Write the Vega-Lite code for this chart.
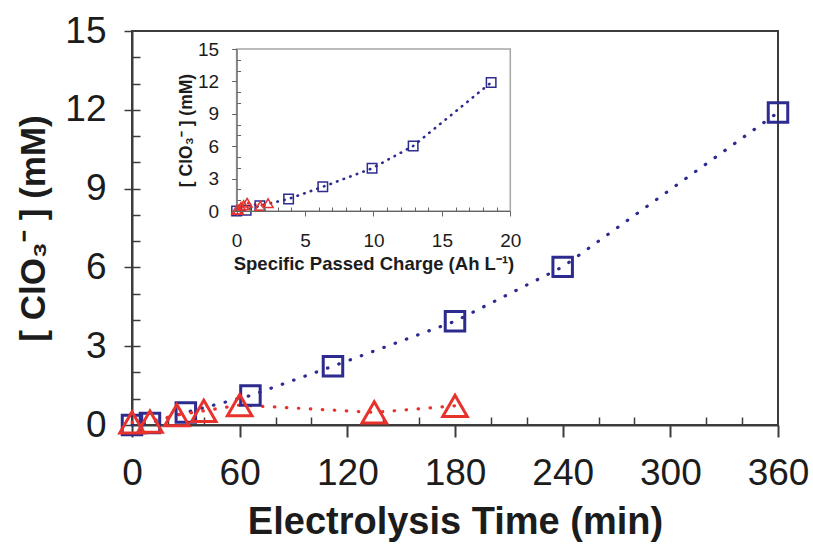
{
  "$schema": "https://vega.github.io/schema/vega-lite/v6.json",
  "width": 646,
  "height": 394,
  "autosize": {"type": "none"},
  "padding": {"left": 132, "top": 31, "right": 35, "bottom": 120},
  "background": "white",
  "config": {
    "view": {"stroke": "#3c3c3c", "strokeWidth": 2},
    "font": "Liberation Sans",
    "axis": {
      "grid": false,
      "labelFont": "Liberation Sans",
      "titleFont": "Liberation Sans",
      "labelColor": "#1c1c1c",
      "titleColor": "#1c1c1c",
      "labelFlush": false,
      "labelOverlap": false
    }
  },
  "datasets": {
    "byTime": [
      {"series": "A", "time_min": 0, "chlorate_mM": 0.0},
      {"series": "A", "time_min": 10, "chlorate_mM": 0.08},
      {"series": "A", "time_min": 30, "chlorate_mM": 0.48},
      {"series": "A", "time_min": 66, "chlorate_mM": 1.12},
      {"series": "A", "time_min": 112, "chlorate_mM": 2.24},
      {"series": "A", "time_min": 180, "chlorate_mM": 3.95},
      {"series": "A", "time_min": 240, "chlorate_mM": 6.02},
      {"series": "A", "time_min": 360, "chlorate_mM": 11.9},
      {"series": "B", "time_min": 0, "chlorate_mM": 0.1},
      {"series": "B", "time_min": 10, "chlorate_mM": 0.13},
      {"series": "B", "time_min": 25, "chlorate_mM": 0.38},
      {"series": "B", "time_min": 40, "chlorate_mM": 0.54},
      {"series": "B", "time_min": 60, "chlorate_mM": 0.76},
      {"series": "B", "time_min": 135, "chlorate_mM": 0.48},
      {"series": "B", "time_min": 180, "chlorate_mM": 0.73}
    ],
    "byCharge": [
      {"series": "A", "charge_AhL": 0, "chlorate_mM": 0.0},
      {"series": "A", "charge_AhL": 0.7, "chlorate_mM": 0.08},
      {"series": "A", "charge_AhL": 1.7, "chlorate_mM": 0.48},
      {"series": "A", "charge_AhL": 3.8, "chlorate_mM": 1.12},
      {"series": "A", "charge_AhL": 6.3, "chlorate_mM": 2.24},
      {"series": "A", "charge_AhL": 9.9, "chlorate_mM": 3.95},
      {"series": "A", "charge_AhL": 12.9, "chlorate_mM": 6.02},
      {"series": "A", "charge_AhL": 18.6, "chlorate_mM": 11.9},
      {"series": "B", "charge_AhL": 0, "chlorate_mM": 0.1},
      {"series": "B", "charge_AhL": 0.13, "chlorate_mM": 0.13},
      {"series": "B", "charge_AhL": 0.32, "chlorate_mM": 0.38},
      {"series": "B", "charge_AhL": 0.51, "chlorate_mM": 0.54},
      {"series": "B", "charge_AhL": 0.77, "chlorate_mM": 0.76},
      {"series": "B", "charge_AhL": 1.73, "chlorate_mM": 0.48},
      {"series": "B", "charge_AhL": 2.3, "chlorate_mM": 0.73}
    ]
  },
  "layer": [
    {
      "data": {"name": "byTime"},
      "layer": [
        {
          "transform": [{"filter": "datum.series === 'A'"}],
          "mark": {"type": "line", "color": "#2d2b8e", "strokeWidth": 3.2, "strokeDash": [0.5, 11.5], "strokeCap": "round"},
          "encoding": {
            "x": {
              "field": "time_min", "type": "quantitative",
              "scale": {"domain": [0, 360], "nice": false},
              "axis": {
                "orient": "bottom", "values": [0, 60, 120, 180, 240, 300, 360], "format": "d",
                "title": "Electrolysis Time (min)", "titleFontSize": 38, "titleFontWeight": "bold", "titlePadding": 12,
                "labelFontSize": 37, "labelPadding": 18,
                "tickSize": 12, "tickWidth": 2, "tickColor": "#3c3c3c",
                "domainColor": "#3c3c3c", "domainWidth": 2
              }
            },
            "y": {
              "field": "chlorate_mM", "type": "quantitative",
              "scale": {"domain": [0, 15], "nice": false},
              "axis": {
                "orient": "left", "values": [0, 3, 6, 9, 12, 15], "format": "d",
                "title": "[ ClO\u2083\u207B ] (mM)", "titleFontSize": 35, "titleFontWeight": "bold", "titlePadding": 13,
                "labelFontSize": 37, "labelPadding": 18,
                "tickSize": 8, "tickWidth": 1.5, "tickColor": "#3c3c3c",
                "domainColor": "#3c3c3c", "domainWidth": 2
              }
            }
          }
        },
        {
          "transform": [{"filter": "datum.series === 'B'"}],
          "mark": {"type": "line", "color": "#e8322c", "strokeWidth": 3.2, "strokeDash": [0.5, 11.5], "strokeCap": "round"},
          "encoding": {
            "x": {
              "field": "time_min", "type": "quantitative",
              "scale": {"domain": [0, 360], "nice": false},
              "axis": {
                "orient": "bottom", "values": [20, 40, 80, 100, 140, 160, 200, 220, 260, 280, 320, 340],
                "labels": false, "domain": false, "title": null,
                "tickSize": -8, "tickWidth": 1.5, "tickColor": "#3c3c3c"
              }
            },
            "y": {
              "field": "chlorate_mM", "type": "quantitative",
              "scale": {"domain": [0, 15], "nice": false},
              "axis": {
                "orient": "left", "values": [1, 2, 3, 4, 5, 6, 7, 8, 9, 10, 11, 12, 13, 14],
                "labels": false, "domain": false, "title": null,
                "tickSize": -8, "tickWidth": 1.5, "tickColor": "#3c3c3c"
              }
            }
          }
        },
        {
          "transform": [{"filter": "datum.series === 'A'"}],
          "mark": {"type": "point", "shape": "square", "filled": false, "color": "#2d2b8e", "strokeWidth": 3, "size": 380, "opacity": 1},
          "encoding": {
            "x": {"field": "time_min", "type": "quantitative", "scale": {"domain": [0, 360], "nice": false}, "axis": null},
            "y": {"field": "chlorate_mM", "type": "quantitative", "scale": {"domain": [0, 15], "nice": false}, "axis": null}
          }
        },
        {
          "transform": [{"filter": "datum.series === 'B'"}],
          "mark": {"type": "point", "shape": "triangle-up", "filled": false, "color": "#e8322c", "strokeWidth": 3, "size": 600, "opacity": 1},
          "encoding": {
            "x": {"field": "time_min", "type": "quantitative", "scale": {"domain": [0, 360], "nice": false}, "axis": null},
            "y": {"field": "chlorate_mM", "type": "quantitative", "scale": {"domain": [0, 15], "nice": false}, "axis": null}
          }
        }
      ],
      "resolve": {"axis": {"x": "independent", "y": "independent"}}
    },
    {
      "data": {"name": "byCharge"},
      "layer": [
        {
          "data": {"values": [{}]},
          "mark": {"type": "rect", "fill": "white", "fillOpacity": 0, "stroke": "#a6a6a6", "strokeWidth": 1.5},
          "encoding": {
            "x": {"datum": 0, "type": "quantitative", "scale": {"domain": [0, 20], "nice": false, "range": [104.6, 378.3]}, "axis": null},
            "x2": {"datum": 20},
            "y": {"datum": 0, "type": "quantitative", "scale": {"domain": [0, 15], "nice": false, "range": [180, 18]}, "axis": null},
            "y2": {"datum": 15}
          }
        },
        {
          "transform": [{"filter": "datum.series === 'A'"}],
          "mark": {"type": "line", "color": "#2d2b8e", "strokeWidth": 2.6, "strokeDash": [0.5, 6.5], "strokeCap": "round"},
          "encoding": {
            "x": {
              "field": "charge_AhL", "type": "quantitative",
              "scale": {"domain": [0, 20], "nice": false, "range": [104.6, 378.3]},
              "axis": {
                "orient": "bottom", "offset": -214, "zindex": 1, "values": [0, 5, 10, 15, 20], "format": "d",
                "title": "Specific Passed Charge (Ah L\u207B\u00B9)", "titleFontSize": 18.5, "titleFontWeight": "bold", "titlePadding": 4,
                "labelFontSize": 19, "labelPadding": 15,
                "tickSize": 5, "tickWidth": 1, "tickColor": "#666666",
                "domainColor": "#666666", "domainWidth": 1.2
              }
            },
            "y": {
              "field": "chlorate_mM", "type": "quantitative",
              "scale": {"domain": [0, 15], "nice": false, "range": [180, 18]},
              "axis": {
                "orient": "left", "offset": -104.6, "zindex": 1, "values": [0, 3, 6, 9, 12, 15], "format": "d",
                "title": "[ ClO\u2083\u207B ] (mM)", "titleFontSize": 17.5, "titleFontWeight": "bold", "titlePadding": 2,
                "labelFontSize": 19, "labelPadding": 13,
                "tickSize": 5, "tickWidth": 1, "tickColor": "#666666",
                "domainColor": "#666666", "domainWidth": 1.2
              }
            }
          }
        },
        {
          "transform": [{"filter": "datum.series === 'B'"}],
          "mark": {"type": "line", "color": "#e8322c", "strokeWidth": 2.6, "strokeDash": [0.5, 6.5], "strokeCap": "round"},
          "encoding": {
            "x": {
              "field": "charge_AhL", "type": "quantitative",
              "scale": {"domain": [0, 20], "nice": false, "range": [104.6, 378.3]},
              "axis": {
                "orient": "bottom", "offset": -214, "zindex": 1,
                "values": [1, 2, 3, 4, 6, 7, 8, 9, 11, 12, 13, 14, 16, 17, 18, 19],
                "labels": false, "domain": false, "title": null,
                "tickSize": -4, "tickWidth": 1, "tickColor": "#666666"
              }
            },
            "y": {
              "field": "chlorate_mM", "type": "quantitative",
              "scale": {"domain": [0, 15], "nice": false, "range": [180, 18]},
              "axis": {
                "orient": "left", "offset": -104.6, "zindex": 1,
                "values": [1, 2, 4, 5, 7, 8, 10, 11, 13, 14],
                "labels": false, "domain": false, "title": null,
                "tickSize": -4, "tickWidth": 1, "tickColor": "#666666"
              }
            }
          }
        },
        {
          "transform": [{"filter": "datum.series === 'A'"}],
          "mark": {"type": "point", "shape": "square", "filled": false, "color": "#2d2b8e", "strokeWidth": 1.5, "size": 90, "opacity": 1},
          "encoding": {
            "x": {"field": "charge_AhL", "type": "quantitative", "scale": {"domain": [0, 20], "nice": false, "range": [104.6, 378.3]}, "axis": null},
            "y": {"field": "chlorate_mM", "type": "quantitative", "scale": {"domain": [0, 15], "nice": false, "range": [180, 18]}, "axis": null}
          }
        },
        {
          "transform": [{"filter": "datum.series === 'B'"}],
          "mark": {"type": "point", "shape": "triangle-up", "filled": false, "color": "#e8322c", "strokeWidth": 1.5, "size": 100, "opacity": 1},
          "encoding": {
            "x": {"field": "charge_AhL", "type": "quantitative", "scale": {"domain": [0, 20], "nice": false, "range": [104.6, 378.3]}, "axis": null},
            "y": {"field": "chlorate_mM", "type": "quantitative", "scale": {"domain": [0, 15], "nice": false, "range": [180, 18]}, "axis": null}
          }
        }
      ],
      "resolve": {"axis": {"x": "independent", "y": "independent"}}
    }
  ],
  "resolve": {
    "scale": {"x": "independent", "y": "independent"},
    "axis": {"x": "independent", "y": "independent"}
  }
}
